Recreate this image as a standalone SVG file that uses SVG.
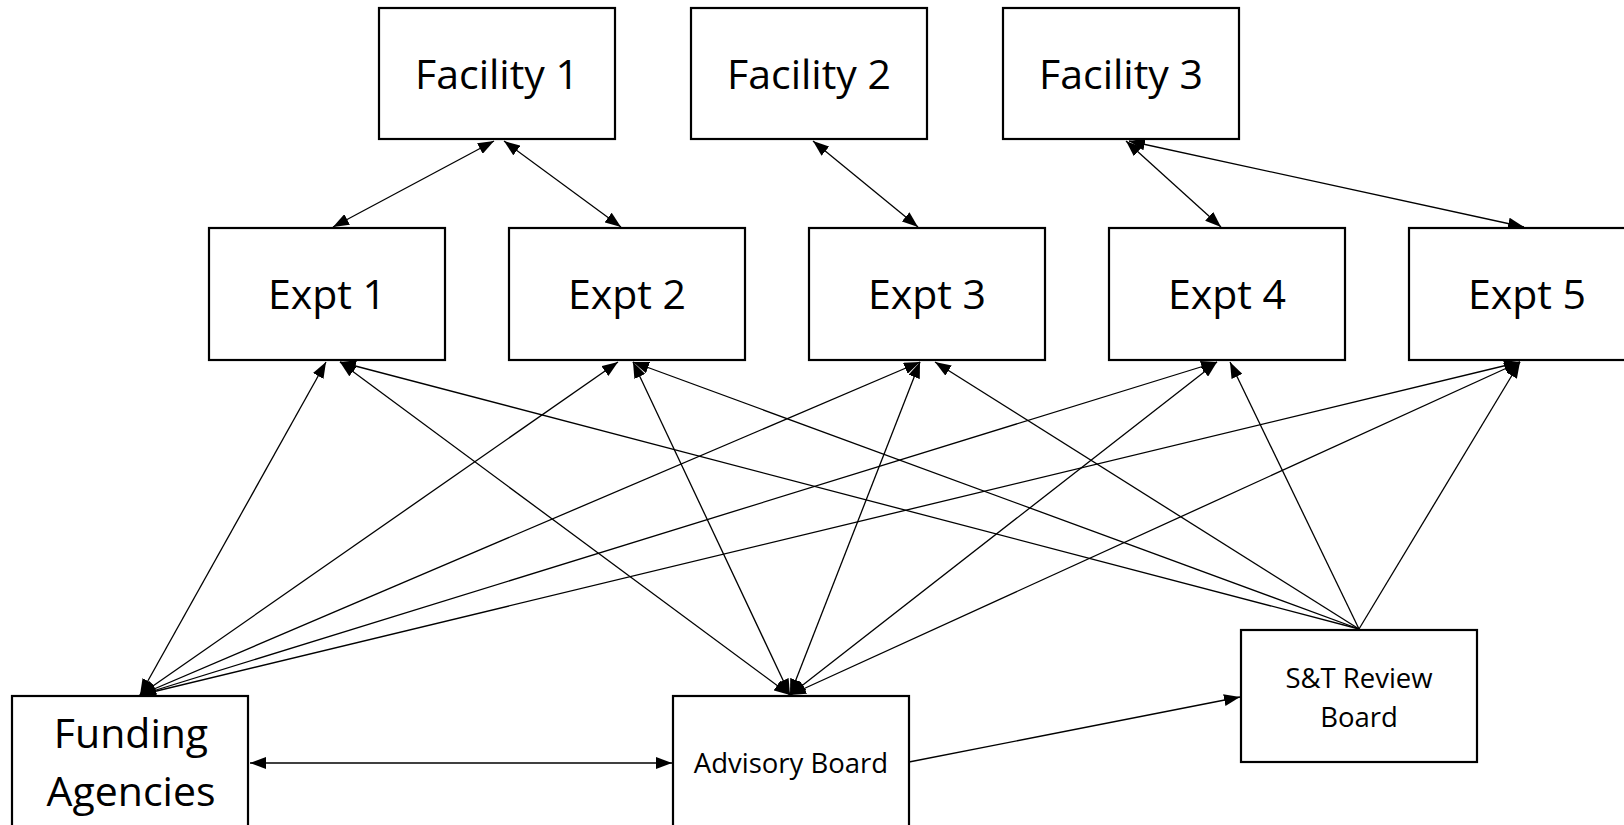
<svg xmlns="http://www.w3.org/2000/svg" width="1624" height="825" viewBox="0 0 1624 825">
<style>
.box{fill:#fff;stroke:#000;stroke-width:2.2}
.big{font-family:"Open Sans","Liberation Sans",sans-serif;font-size:41px;fill:#000;text-anchor:middle}
.small{font-family:"Open Sans","Liberation Sans",sans-serif;font-size:27.5px;fill:#000;text-anchor:middle}
.c{stroke:#000;stroke-width:1.3;fill:none}
.d{marker-start:url(#ah);marker-end:url(#ah)}
.s{marker-end:url(#ah)}
</style>
<defs>
<marker id="ah" markerUnits="userSpaceOnUse" markerWidth="16" markerHeight="12" refX="16" refY="6" orient="auto-start-reverse" viewBox="0 0 16 12">
<path d="M0,0 L16,6 L0,12 z" fill="#000"/>
</marker>
</defs>
<rect width="1624" height="825" fill="#fff"/>
<g id="connectors">
<line class="c d" x1="494" y1="141" x2="333" y2="227"/>
<line class="c d" x1="504" y1="141" x2="621" y2="227"/>
<line class="c d" x1="813" y1="141" x2="918" y2="227"/>
<line class="c d" x1="1126" y1="141" x2="1221" y2="227"/>
<line class="c d" x1="1129" y1="141" x2="1524" y2="227"/>

<line class="c d" x1="140" y1="695" x2="326" y2="362"/>
<line class="c d" x1="140" y1="695" x2="618" y2="362"/>
<line class="c d" x1="140" y1="695" x2="920" y2="362"/>
<line class="c d" x1="140" y1="695" x2="1217" y2="362"/>
<line class="c d" x1="140" y1="695" x2="1520" y2="362"/>

<line class="c d" x1="790" y1="695" x2="340" y2="362"/>
<line class="c d" x1="790" y1="695" x2="633" y2="362"/>
<line class="c d" x1="790" y1="695" x2="920" y2="362"/>
<line class="c d" x1="790" y1="695" x2="1217" y2="362"/>
<line class="c d" x1="790" y1="695" x2="1520" y2="362"/>

<line class="c s" x1="1359" y1="629" x2="340" y2="362"/>
<line class="c s" x1="1359" y1="629" x2="633" y2="362"/>
<line class="c s" x1="1359" y1="629" x2="935" y2="362"/>
<line class="c s" x1="1359" y1="629" x2="1230" y2="362"/>
<line class="c s" x1="1359" y1="629" x2="1520" y2="362"/>

<line class="c d" x1="250" y1="763" x2="672" y2="763"/>
<line class="c s" x1="909" y1="762" x2="1240" y2="697"/>
</g>
<g id="facility1"><rect class="box" x="379" y="8" width="236" height="131"/><text class="big" x="497" y="89">Facility 1</text></g>
<g id="facility2"><rect class="box" x="691" y="8" width="236" height="131"/><text class="big" x="809" y="89">Facility 2</text></g>
<g id="facility3"><rect class="box" x="1003" y="8" width="236" height="131"/><text class="big" x="1121" y="89">Facility 3</text></g>
<g id="expt1"><rect class="box" x="209" y="228" width="236" height="132"/><text class="big" x="327" y="309">Expt 1</text></g>
<g id="expt2"><rect class="box" x="509" y="228" width="236" height="132"/><text class="big" x="627" y="309">Expt 2</text></g>
<g id="expt3"><rect class="box" x="809" y="228" width="236" height="132"/><text class="big" x="927" y="309">Expt 3</text></g>
<g id="expt4"><rect class="box" x="1109" y="228" width="236" height="132"/><text class="big" x="1227" y="309">Expt 4</text></g>
<g id="expt5"><rect class="box" x="1409" y="228" width="236" height="132"/><text class="big" x="1527" y="309">Expt 5</text></g>
<g id="funding"><rect class="box" x="12" y="696" width="236" height="140"/><text class="big" x="131" y="748">Funding</text><text class="big" x="131" y="806">Agencies</text></g>
<g id="advisory"><rect class="box" x="673" y="696" width="236" height="140"/><text class="small" x="791" y="773">Advisory Board</text></g>
<g id="streview"><rect class="box" x="1241" y="630" width="236" height="132"/><text class="small" x="1359" y="688">S&amp;T Review</text><text class="small" x="1359" y="727">Board</text></g>
</svg>
